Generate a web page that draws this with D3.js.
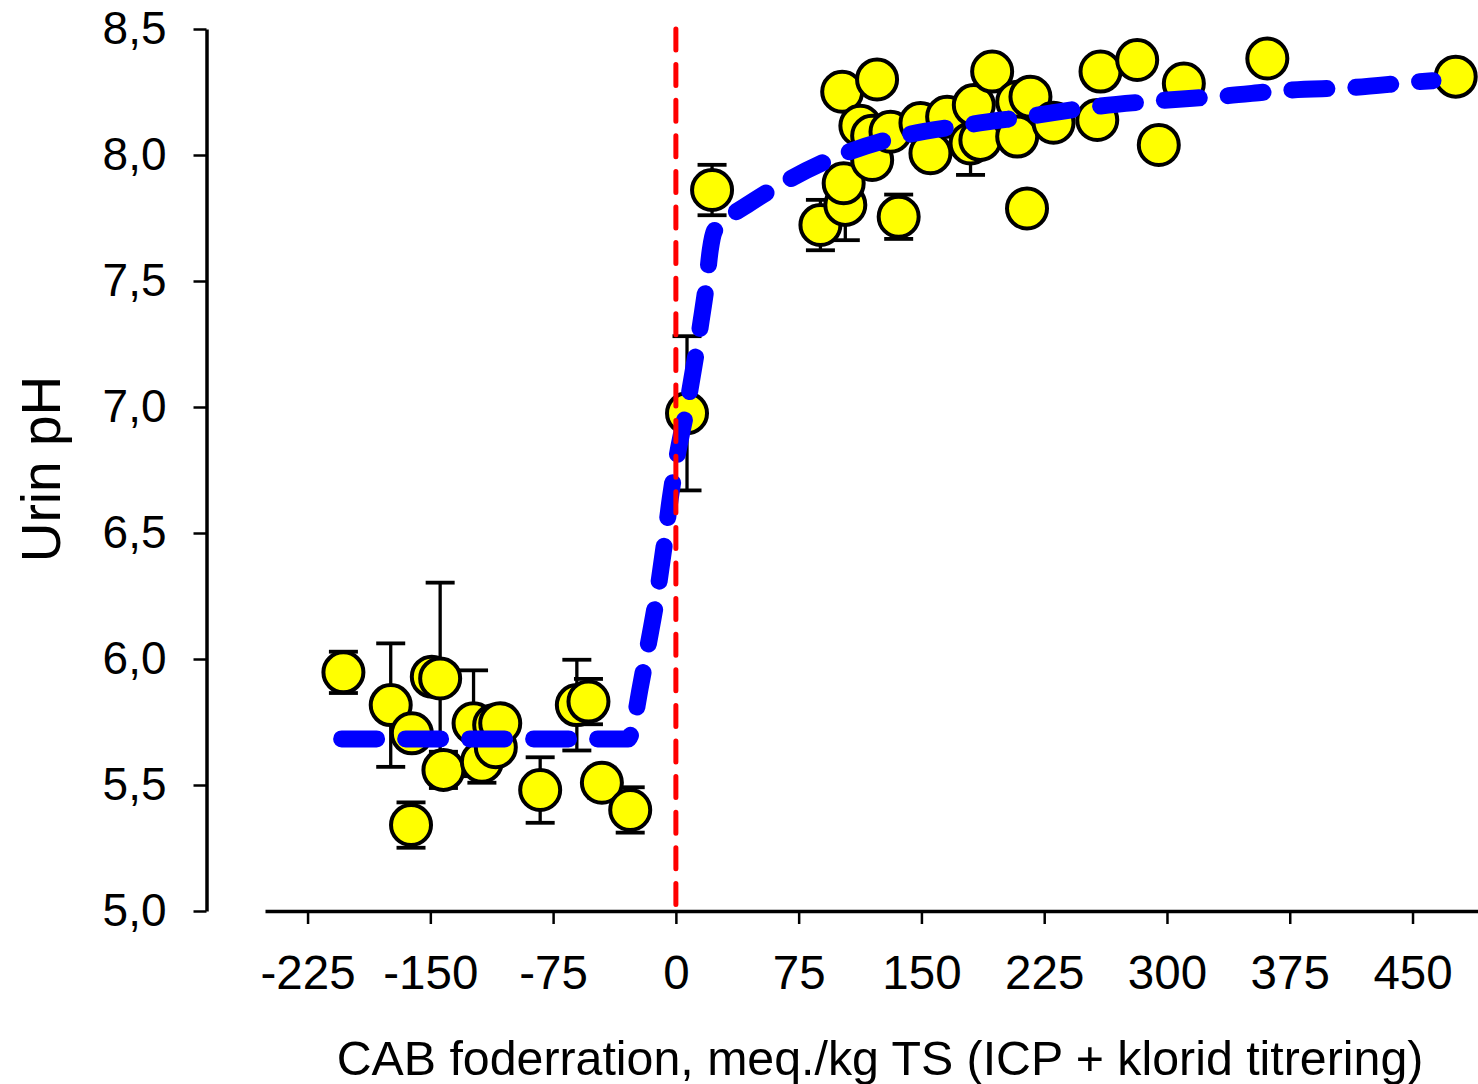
<!DOCTYPE html>
<html>
<head>
<meta charset="utf-8">
<script src="https://cdn.jsdelivr.net/npm/d3@7"></script>
<style>
  body { margin: 0; background: #fff; }
  svg { display: block; }
  text { font-family: "Liberation Sans", Arial, Helvetica, sans-serif; fill: #000; }
</style>
</head>
<body>
<svg id="chart" width="1478" height="1084"></svg>
<script>
// Urine pH versus dietary cation-anion balance (CAB), means with SE
const cabValues = [
  -203.1, -174.2, -161.3, -161.8, -149.1, -144.0, -142.0, -123.6, -118.5, -111.0, -110.0, -107.3,
  -82.9, -60.5, -53.4, -45.2, -27.9,
  6.8, 22.1,
  88.3, 103.5, 102.5, 101.6, 122.9, 112.7, 119.9, 119.9, 131.1, 136.1, 149.4, 155.5, 165.7,
  182.0, 180.0, 186.0, 193.2, 208.5, 216.6, 208.5, 214.5, 230.7, 259.4, 257.4, 281.8,
  295.0, 310.3, 361.3, 476.4
];
const phValues = [
  5.947, 5.817, 5.705, 5.341, 5.930, 5.923, 5.560, 5.745, 5.592, 5.738, 5.650, 5.745,
  5.480, 5.817, 5.831, 5.509, 5.401,
  6.975, 7.861,
  7.722, 7.802, 7.888, 8.251, 8.300, 8.116, 8.076, 7.980, 8.092, 7.755, 8.127, 8.007, 8.152,
  8.198, 8.046, 8.060, 8.331, 8.211, 8.231, 8.073, 7.788, 8.128, 8.331, 8.139, 8.377,
  8.040, 8.284, 8.383, 8.311
];
const phErrors = [
  0.082, 0.245, 0.000, 0.090, 0.000, 0.380, 0.072, 0.210, 0.083, 0.000, 0.000, 0.000,
  0.130, 0.180, 0.090, 0.060, 0.090,
  0.306, 0.100,
  0.100, 0.140, 0.000, 0.000, 0.000, 0.000, 0.000, 0.000, 0.000, 0.088, 0.000, 0.000, 0.000,
  0.000, 0.125, 0.000, 0.000, 0.000, 0.000, 0.000, 0.000, 0.000, 0.000, 0.000, 0.000,
  0.000, 0.000, 0.000, 0.000
];

// Fitted response curve
const fitCab = [-204.2, -29.1, -26.0, -21.8, -16.9, -12.0, -7.1, -3.4, 0.9, 6.4, 11.2, 15.5, 18.6,
  21.0, 23.5, 29.6, 45.5, 69.9, 99.3, 137.8, 177.5, 217.3, 256.4, 296.1, 334.6, 375.5, 414.1, 453.8, 462.5];
const fitPh = [5.683, 5.683, 5.738, 5.885, 6.056, 6.234, 6.452, 6.639, 6.810, 6.988, 7.167, 7.345, 7.484,
  7.623, 7.698, 7.738, 7.810, 7.905, 7.996, 8.075, 8.119, 8.155, 8.192, 8.216, 8.234, 8.258, 8.268, 8.291, 8.295];

const xTicks = [-225, -150, -75, 0, 75, 150, 225, 300, 375, 450];
const yTicks = [5.0, 5.5, 6.0, 6.5, 7.0, 7.5, 8.0, 8.5];
const neutralCab = 0;

const xTitle = "CAB foderration, meq./kg TS (ICP + klorid titrering)";
const yTitle = "Urin pH";

const svg = d3.select("#chart");

const x = d3.scaleLinear().domain([-251, 490]).range([265, 1478]);
const y = d3.scaleLinear().domain([5, 8.5]).range([911, 29]);
const yAxisX = 206.5;

const comma = d3.formatLocale({ decimal: ",", thousands: ".", grouping: [3], currency: ["", ""] }).format(".1f");

// Y axis
const gy = svg.append("g")
  .attr("transform", `translate(${yAxisX},0)`)
  .call(d3.axisLeft(y).tickValues(yTicks).tickFormat(comma).tickSize(13).tickSizeOuter(0).tickPadding(27));
gy.select(".domain").attr("stroke", "#000").attr("stroke-width", 3.5);
gy.selectAll(".tick line").attr("stroke", "#000").attr("stroke-width", 2.5);
gy.selectAll(".tick text").attr("font-size", 46).attr("font-family", "Liberation Sans, Arial, sans-serif");

// X axis
const gx = svg.append("g")
  .attr("transform", `translate(0,${y(5)})`)
  .call(d3.axisBottom(x).tickValues(xTicks).tickFormat(d => String(d)).tickSize(13).tickSizeOuter(0).tickPadding(31));
gx.select(".domain").attr("stroke", "#000").attr("stroke-width", 3.5);
gx.selectAll(".tick line").attr("stroke", "#000").attr("stroke-width", 2.5);
gx.selectAll(".tick text").attr("font-size", 47.5).attr("font-family", "Liberation Sans, Arial, sans-serif");

// Axis titles
svg.append("text")
  .attr("x", 880).attr("y", 1075)
  .attr("text-anchor", "middle")
  .attr("font-size", 48.3)
  .text(xTitle);

svg.append("text")
  .attr("transform", "translate(60,469) rotate(-90)")
  .attr("text-anchor", "middle")
  .attr("font-size", 55)
  .text(yTitle);

const pts = cabValues.map((c, i) => ({ cab: c, ph: phValues[i], se: phErrors[i] }));

// Error bars (drawn under the markers)
const eb = svg.append("g").attr("stroke", "#000").attr("stroke-width", 3.3);
pts.filter(d => d.se > 0).forEach(d => {
  const cx = x(d.cab), top = y(d.ph + d.se), bot = y(d.ph - d.se);
  eb.append("line").attr("x1", cx).attr("x2", cx).attr("y1", top).attr("y2", bot);
  eb.append("line").attr("x1", cx - 14.5).attr("x2", cx + 14.5).attr("y1", top).attr("y2", top).attr("stroke-width", 3.8);
  eb.append("line").attr("x1", cx - 14.5).attr("x2", cx + 14.5).attr("y1", bot).attr("y2", bot).attr("stroke-width", 3.8);
});

// Markers
svg.append("g").selectAll("circle")
  .data(pts)
  .join("circle")
  .attr("cx", d => x(d.cab))
  .attr("cy", d => y(d.ph))
  .attr("r", 20)
  .attr("fill", "#ffff00")
  .attr("stroke", "#000")
  .attr("stroke-width", 4);

// Fitted curve
const fit = fitCab.map((c, i) => [c, fitPh[i]]);
svg.append("path")
  .datum(fit)
  .attr("d", d3.line().x(d => x(d[0])).y(d => y(d[1])).curve(d3.curveMonotoneX))
  .attr("fill", "none")
  .attr("stroke", "#0000ff")
  .attr("stroke-width", 17)
  .attr("stroke-linecap", "round")
  .attr("stroke-linejoin", "round")
  .attr("stroke-dasharray", "35,29");

// Reference line at CAB = 0
svg.append("line")
  .attr("x1", x(neutralCab)).attr("x2", x(neutralCab))
  .attr("y1", y(8.5)).attr("y2", y(5))
  .attr("stroke", "#ff0000")
  .attr("stroke-width", 5)
  .attr("stroke-linecap", "round")
  .attr("stroke-dasharray", "21,14.6");
</script>
</body>
</html>
